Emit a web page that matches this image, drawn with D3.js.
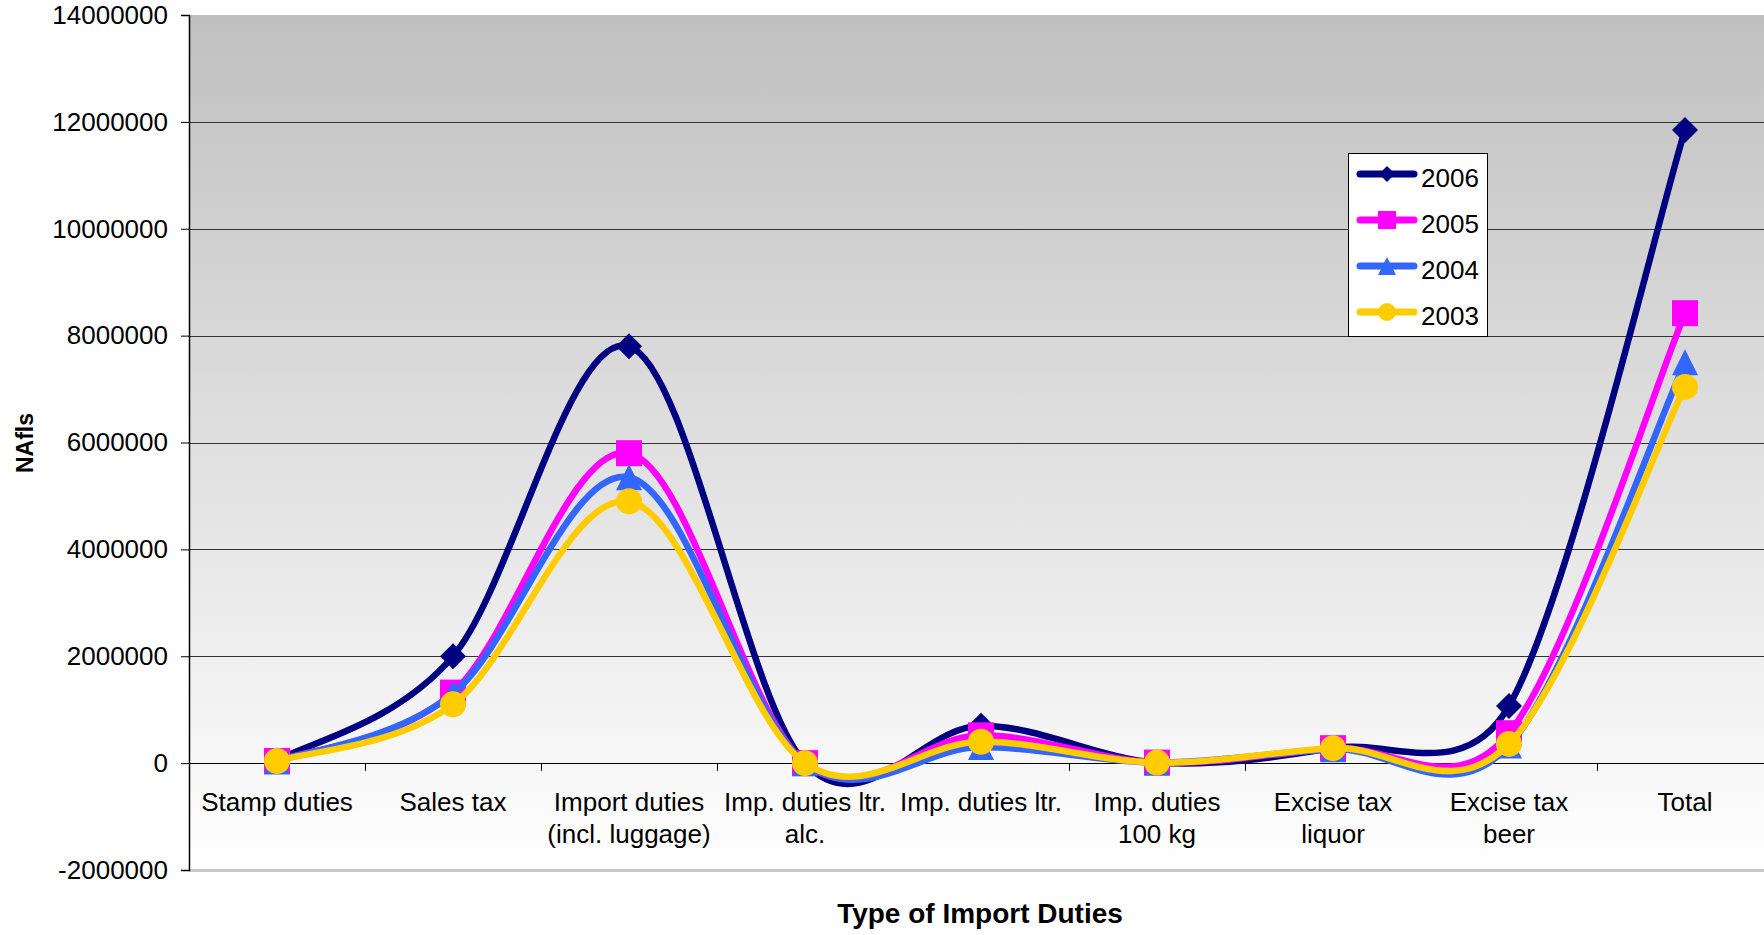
<!DOCTYPE html>
<html>
<head>
<meta charset="utf-8">
<script src="https://cdn.jsdelivr.net/npm/d3@7"></script>
<style>
  html, body { margin: 0; padding: 0; background: #ffffff; }
  svg { display: block; }
  text { font-family: "Liberation Sans", Arial, sans-serif; fill: #000; }
</style>
</head>
<body>
<svg id="chart" width="1764" height="935"></svg>
<script>
// ---- Data ----
const categories = [
  "Stamp duties",
  "Sales tax",
  "Import duties\n(incl. luggage)",
  "Imp. duties ltr.\nalc.",
  "Imp. duties ltr.",
  "Imp. duties\n100 kg",
  "Excise tax\nliquor",
  "Excise tax\nbeer",
  "Total"
];
const seriesNames = ["2006", "2005", "2004", "2003"];
const values2006 = [50000, 2000000, 7800000, 0, 700000, 10000, 280000, 1070000, 11850000];
const values2005 = [40000, 1320000, 5800000, 0, 520000, 10000, 280000, 560000, 8420000];
const values2004 = [30000, 1300000, 5350000, 0, 300000, 10000, 260000, 330000, 7500000];
const values2003 = [40000, 1100000, 4900000, 0, 400000, 10000, 280000, 360000, 7040000];
const yTicks = [-2000000, 0, 2000000, 4000000, 6000000, 8000000, 10000000, 12000000, 14000000];
const seriesColors = ["#000080", "#ff00ff", "#3366ff", "#ffcc00"];
const seriesMarkers = ["diamond", "square", "triangle", "circle"];
const xTitle = "Type of Import Duties";
const yTitle = "NAfls";

const seriesData = [values2006, values2005, values2004, values2003];

// ---- Layout ----
const svg = d3.select("#chart");
const plotLeft = 189, plotRight = 1773, plotTop = 15, plotBottom = 870;

const x = d3.scaleBand().domain(categories).range([plotLeft, plotRight]).paddingInner(0).paddingOuter(0);
const y = d3.scaleLinear().domain([-2000000, 14000000]).range([plotBottom, plotTop]);
const cx = c => x(c) + x.bandwidth() / 2;

// background gradient
const defs = svg.append("defs");
const grad = defs.append("linearGradient").attr("id", "bg").attr("x1", 0).attr("y1", 0).attr("x2", 0).attr("y2", 1);
grad.append("stop").attr("offset", "0%").attr("stop-color", "#c0c0c0");
grad.append("stop").attr("offset", "100%").attr("stop-color", "#ffffff");

svg.append("rect")
  .attr("x", plotLeft).attr("y", plotTop)
  .attr("width", plotRight - plotLeft).attr("height", plotBottom - plotTop)
  .attr("fill", "url(#bg)");

// gridlines
svg.append("g").selectAll("line")
  .data(yTicks.filter(t => t > -2000000 && t < 14000000))
  .join("line")
  .attr("x1", plotLeft).attr("x2", plotRight)
  .attr("y1", d => Math.round(y(d)) + 0.5).attr("y2", d => Math.round(y(d)) + 0.5)
  .attr("stroke", d => d === 0 ? "#000" : "#333")
  .attr("stroke-width", 1);

// bottom border
svg.append("line")
  .attr("x1", plotLeft).attr("x2", plotRight)
  .attr("y1", plotBottom + 0.5).attr("y2", plotBottom + 0.5)
  .attr("stroke", "#c8c8c8").attr("stroke-width", 3);

// y axis
const yAxis = d3.axisLeft(y).tickValues(yTicks).tickSize(8).tickPadding(13).tickFormat(d => String(d));
const gy = svg.append("g").attr("transform", `translate(${plotLeft},0)`).call(yAxis);
gy.select(".domain").attr("stroke", "#000").attr("stroke-width", 1.5);
gy.selectAll(".tick line").attr("stroke", "#000");
gy.selectAll(".tick text").attr("font-size", 26).attr("font-family", "Liberation Sans, Arial, sans-serif").attr("fill", "#000");

// x axis tick marks (at band boundaries on zero line)
const boundaries = categories.map(c => x(c)).slice(1).concat([plotRight]);
svg.append("g").selectAll("line").data(boundaries).join("line")
  .attr("x1", d => Math.round(d) + 0.5).attr("x2", d => Math.round(d) + 0.5)
  .attr("y1", y(0)).attr("y2", y(0) + 8)
  .attr("stroke", "#000").attr("stroke-width", 1);

// category labels
const labels = svg.append("g");
categories.forEach(c => {
  const lines = c.split("\n");
  const t = labels.append("text")
    .attr("x", cx(c)).attr("y", 811)
    .attr("text-anchor", "middle")
    .attr("font-size", 26);
  lines.forEach((ln, i) => {
    t.append("tspan").attr("x", cx(c)).attr("dy", i === 0 ? 0 : 32).text(ln);
  });
});

// axis titles
svg.append("text")
  .attr("x", (plotLeft + plotRight) / 2 - 1).attr("y", 923)
  .attr("text-anchor", "middle")
  .attr("font-size", 28).attr("font-weight", "bold")
  .text(xTitle);

svg.append("text")
  .attr("transform", `translate(33,443) rotate(-90)`)
  .attr("text-anchor", "middle")
  .attr("font-size", 23).attr("font-weight", "bold")
  .text(yTitle);

// marker drawing
function drawMarker(g, type, px, py, size, color) {
  const h = size / 2;
  if (type === "diamond") {
    g.append("path").attr("d", `M${px},${py - h}L${px + h},${py}L${px},${py + h}L${px - h},${py}Z`).attr("fill", color);
  } else if (type === "square") {
    g.append("rect").attr("x", px - h).attr("y", py - h).attr("width", size).attr("height", size).attr("fill", color);
  } else if (type === "triangle") {
    g.append("path").attr("d", `M${px},${py - h}L${px + h},${py + h}L${px - h},${py + h}Z`).attr("fill", color);
  } else {
    g.append("circle").attr("cx", px).attr("cy", py).attr("r", h).attr("fill", color);
  }
}

// Excel-like smoothed line: Bezier with tangent (P[i+1]-P[i-1])/6,
// each control arm limited to half of its adjacent segment length.
function smoothPath(vals) {
  const pts = vals.map((v, i) => [cx(categories[i]), y(v)]);
  const n = pts.length;
  const tang = pts.map((p, i) => {
    const a = pts[Math.max(0, i - 1)], b = pts[Math.min(n - 1, i + 1)];
    return [(b[0] - a[0]) / 6, (b[1] - a[1]) / 6];
  });
  const dist = (a, b) => Math.hypot(b[0] - a[0], b[1] - a[1]);
  const p = d3.path();
  p.moveTo(pts[0][0], pts[0][1]);
  for (let i = 0; i < n - 1; i++) {
    const P0 = pts[i], P1 = pts[i + 1];
    const seg = dist(P0, P1);
    const t0 = tang[i], t1 = tang[i + 1];
    const l0 = Math.hypot(t0[0], t0[1]), l1 = Math.hypot(t1[0], t1[1]);
    const s0 = l0 > 0 ? Math.min(1, (seg / 2) / l0) : 0;
    const s1 = l1 > 0 ? Math.min(1, (seg / 2) / l1) : 0;
    p.bezierCurveTo(
      P0[0] + t0[0] * s0, P0[1] + t0[1] * s0,
      P1[0] - t1[0] * s1, P1[1] - t1[1] * s1,
      P1[0], P1[1]
    );
  }
  return p.toString();
}

const seriesG = svg.append("g");
seriesData.forEach((vals, si) => {
  const g = seriesG.append("g");
  g.append("path")
    .attr("d", smoothPath(vals))
    .attr("fill", "none")
    .attr("stroke", seriesColors[si])
    .attr("stroke-width", 6.5)
    .attr("stroke-linejoin", "round");
  vals.forEach((v, i) => {
    drawMarker(g, seriesMarkers[si], cx(categories[i]), y(v), 26, seriesColors[si]);
  });
});

// legend
const lg = svg.append("g");
lg.append("rect")
  .attr("x", 1348.5).attr("y", 153.5).attr("width", 139).attr("height", 183)
  .attr("fill", "#fff").attr("stroke", "#000").attr("stroke-width", 1);
seriesNames.forEach((name, i) => {
  const ly = 174 + i * 46;
  lg.append("line")
    .attr("x1", 1360).attr("x2", 1414).attr("y1", ly).attr("y2", ly)
    .attr("stroke", seriesColors[i]).attr("stroke-width", 7).attr("stroke-linecap", "round");
  drawMarker(lg, seriesMarkers[i], 1387, ly, seriesMarkers[i] === "diamond" ? 16 : 18, seriesColors[i]);
  lg.append("text").attr("x", 1421).attr("y", ly + 13).attr("font-size", 26).text(name);
});
</script>
</body>
</html>
